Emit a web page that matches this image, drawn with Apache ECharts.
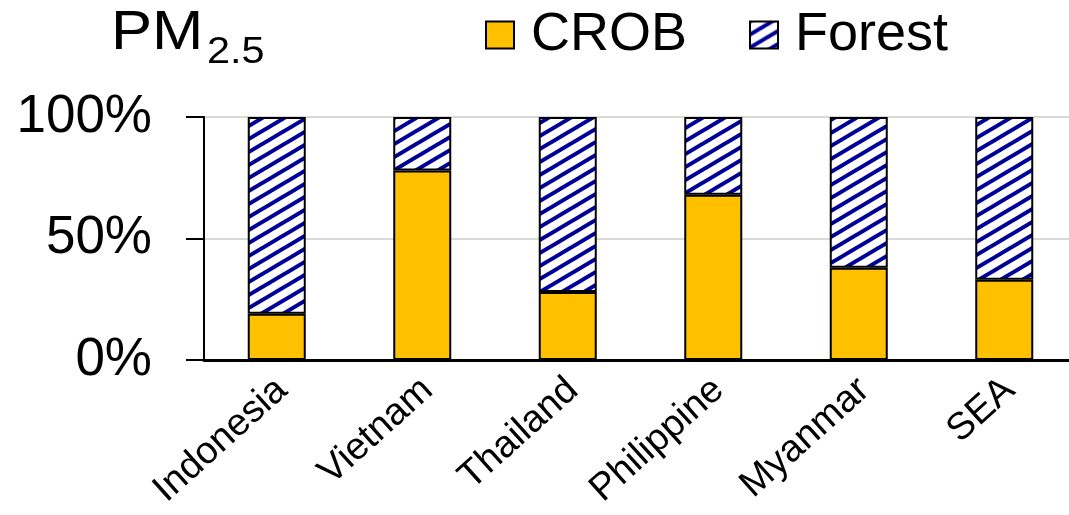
<!DOCTYPE html>
<html>
<head>
<meta charset="utf-8">
<title>PM2.5</title>
<script src="https://cdn.jsdelivr.net/npm/echarts@6/dist/echarts.min.js"></script>
<style>
  html, body { margin: 0; padding: 0; background: #fff; overflow: hidden; }
  /* plot runs a few px past the right edge of the window, as in the source picture */
  #main { width: 1077px; height: 515px; }
</style>
</head>
<body>
<div id="main"></div>
<script>
// data
const categories = ['Indonesia', 'Vietnam', 'Thailand', 'Philippine', 'Myanmar', 'SEA']
const crob = [19, 78, 28, 68, 38, 33]
const forest = [81, 22, 72, 32, 62, 67]
const yTicks = [0, 50, 100]

const font = 'Liberation Sans, Arial, sans-serif'

// diagonal hatch for the Forest part
function hatch () {
  let w = 22, h = 13
  let c = document.createElement('canvas')
  c.width = w
  c.height = h
  let ctx = c.getContext('2d')
  ctx.fillStyle = '#fff'
  ctx.fillRect(0, 0, w, h)
  ctx.strokeStyle = '#000099'
  ctx.lineWidth = 4
  for (let k = -1; k <= 1; k++) {
    ctx.beginPath()
    ctx.moveTo(-1, h + k * h + h / w)
    ctx.lineTo(w + 1, k * h - h / w)
    ctx.stroke()
  }
  return c
}

let chart = echarts.init(document.getElementById('main'))
let option = {
  animation: false,
  graphic: [
    { type: 'text', x: 111, y: 34, scaleX: 1.1, style: { text: 'PM', textVerticalAlign: 'middle', font: '56px ' + font, fill: '#000' } },
    { type: 'text', x: 207, y: 53, scaleX: 1.12, style: { text: '2.5', textVerticalAlign: 'middle', font: '37px ' + font, fill: '#000' } }
  ],
  legend: {
    left: 480,
    top: 3,
    icon: 'rect',
    itemWidth: 28,
    itemHeight: 27,
    itemGap: 62,
    textStyle: { fontSize: 54, fontFamily: font, color: '#000', padding: [0, 0, 0, 12] },
    data: ['CROB', 'Forest']
  },
  grid: { left: 204, top: 117, bottom: 155, width: 873, containLabel: false, outerBoundsMode: 'none' },
  xAxis: {
    type: 'category',
    data: categories,
    axisLine: { lineStyle: { color: '#000', width: 3 } },
    axisTick: { show: false },
    axisLabel: {
      rotate: 42, fontSize: 38, fontFamily: font, color: '#000',
      margin: 4, interval: 0, verticalAlign: 'top', padding: [0, 10, 0, 0]
    }
  },
  yAxis: {
    type: 'value',
    min: yTicks[0],
    max: yTicks[yTicks.length - 1],
    interval: yTicks[1] - yTicks[0],
    axisLine: { show: true, lineStyle: { color: '#000', width: 2 } },
    axisTick: { show: true, length: 18, lineStyle: { color: '#000', width: 2 } },
    axisLabel: { fontSize: 53, fontFamily: font, color: '#000', margin: 52, formatter: '{value}%' },
    splitLine: { lineStyle: { color: '#d9d9d9', width: 2 } }
  },
  series: [
    {
      name: 'CROB',
      type: 'bar',
      stack: 'all',
      barWidth: 58,
      itemStyle: { color: '#FFC000', borderColor: '#000', borderWidth: 2 },
      data: crob
    },
    {
      name: 'Forest',
      type: 'bar',
      stack: 'all',
      barWidth: 58,
      itemStyle: { color: { image: hatch(), repeat: 'repeat' }, borderColor: '#000', borderWidth: 2 },
      data: forest
    }
  ]
}
chart.setOption(option)
window.addEventListener('resize', () => {
  chart.resize()
})
</script>
</body>
</html>
